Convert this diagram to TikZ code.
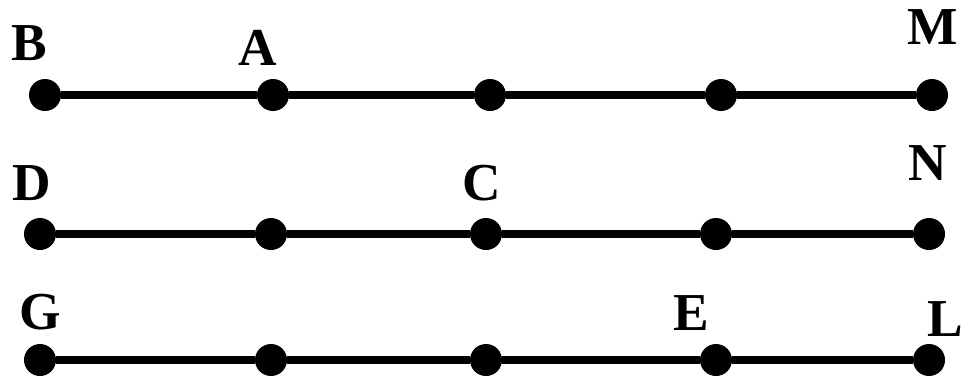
\documentclass[tikz,border=0pt]{standalone}
\usepackage{fontspec}
\setmainfont{Liberation Serif}
\tikzset{
	dot/.style={
		circle,
		fill=black,
		inner sep=0pt,
		minimum size=24pt},
	seg/.style={draw, line width=5.3pt},
	lbl/.style={
		inner sep=0pt,
		font=\fontsize{40}{40}\selectfont\bfseries},
}
\begin{document}
\begin{tikzpicture}
	[x=0.75pt, y=-0.75pt]
	\useasboundingbox (0,0) rectangle (962,380);
	% first row
	\node[dot] (B) at (45,95) {};
	\node[dot] (A) at (273,95) {};
	\node[dot] (p13) at (490,95) {};
	\node[dot] (p14) at (721,95) {};
	\node[dot] (M) at (932,95) {};
	\path[seg] (B) -- (A) -- (p13) -- (p14) -- (M);
	\node[lbl] (lB) at (29,43) {B};
	\node[lbl] (lA) at (258,48) {A};
	\node[lbl] (lM) at (933,27) {M};
	% second row
	\node[dot] (D) at (40,234) {};
	\node[dot] (p22) at (271,234) {};
	\node[dot] (C) at (486,234) {};
	\node[dot] (p24) at (716,234) {};
	\node[dot] (N) at (929,234) {};
	\path[seg] (D) -- (p22) -- (C) -- (p24) -- (N);
	\node[lbl] (lD) at (32,183) {D};
	\node[lbl] (lC) at (482,183) {C};
	\node[lbl] (lN) at (928,163) {N};
	% third row
	\node[dot] (G) at (40,360) {};
	\node[dot] (p32) at (271,360) {};
	\node[dot] (p33) at (486,360) {};
	\node[dot] (E) at (716,360) {};
	\node[dot] (L) at (929,360) {};
	\path[seg] (G) -- (p32) -- (p33) -- (E) -- (L);
	\node[lbl] (lG) at (40,312) {G};
	\node[lbl] (lE) at (691,313) {E};
	\node[lbl] (lL) at (945,319) {L};
\end{tikzpicture}
\end{document}
